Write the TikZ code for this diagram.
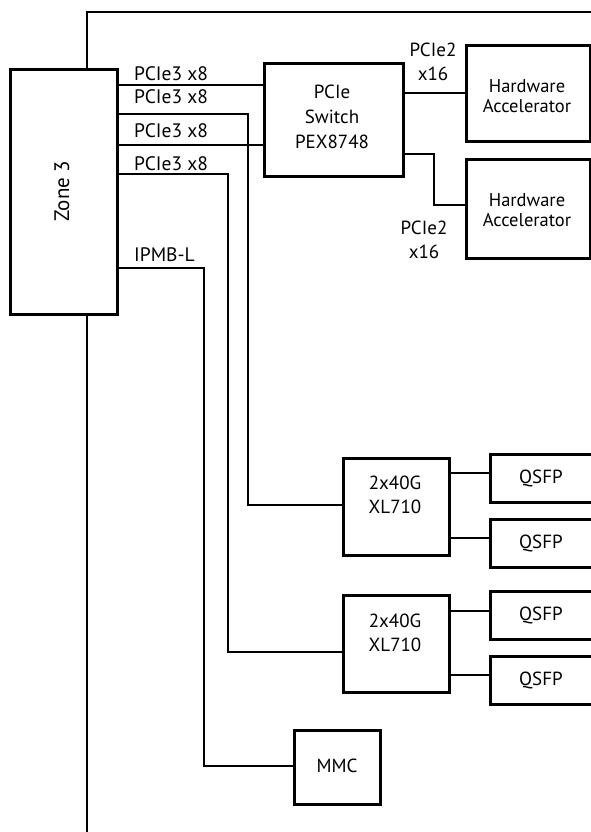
\documentclass[tikz,border=0pt]{standalone}
\usepackage{fontspec}
\setmainfont{PT Sans}
\begin{document}
\begin{tikzpicture}[x=1pt,y=-1pt,
  box/.style={draw=black,line width=3.2pt,fill=white,inner sep=0pt,anchor=north west},
  conn/.style={draw=black,line width=1.1pt},
  frame/.style={draw=black,line width=2.8pt},
  txt/.style={inner sep=0pt,align=center,font=\fontsize{19}{24}\selectfont},
  txtb/.style={inner sep=0pt,align=center,font=\fontsize{19}{25}\selectfont},
  txtc/.style={inner sep=0pt,align=center,font=\fontsize{18.5}{20}\selectfont},
  lbl/.style={inner sep=0pt,anchor=base west,font=\fontsize{19.5}{22}\selectfont}]
\clip (0,0) rectangle (591,832);
\fill[white] (0,0) rectangle (591,832);
% outer frame
\draw[frame] (87,840) -- (87,12) -- (600,12);
% boxes
\node[box,minimum width=107pt,minimum height=245pt] (zone) at (9,68) {};
\node[box,minimum width=139pt,minimum height=113pt] (sw) at (263,62) {};
\node[box,minimum width=124pt,minimum height=96pt] (ha1) at (465,44) {};
\node[box,minimum width=124pt,minimum height=99pt] (ha2) at (465,158) {};
\node[box,minimum width=106pt,minimum height=97pt] (xl1) at (342,457) {};
\node[box,minimum width=106pt,minimum height=97pt] (xl2) at (342,594) {};
\node[box,minimum width=106pt,minimum height=48pt] (q1) at (489,453) {};
\node[box,minimum width=106pt,minimum height=48pt] (q2) at (489,518) {};
\node[box,minimum width=106pt,minimum height=48pt] (q3) at (489,590) {};
\node[box,minimum width=106pt,minimum height=48pt] (q4) at (489,655) {};
\node[box,minimum width=86pt,minimum height=74pt] (mmc) at (293,729) {};
% box texts
\node[inner sep=0pt,font=\fontsize{21}{24}\selectfont,rotate=90] (tzone) at (62,191) {Zone 3};
\node[txtb] (tsw) at (332,117) {PCIe\\Switch\\PEX8748};
\node[txtc] (tha1) at (527,96) {Hardware\\Accelerator};
\node[txtc] (tha2) at (527,210) {Hardware\\Accelerator};
\node[txt] (txl1) at (395,495) {2x40G\\XL710};
\node[txt] (txl2) at (395,633) {2x40G\\XL710};
\node[txt] (tq1) at (541,478) {QSFP};
\node[txt] (tq2) at (541,543) {QSFP};
\node[txt] (tq3) at (541,615) {QSFP};
\node[txt] (tq4) at (541,680) {QSFP};
\node[txt] (tmmc) at (337,766) {MMC};
% connectors
\draw[conn] (zone.east |- 0,85) -- (sw.west |- 0,85);
\draw[conn] (zone.east |- 0,145) -- (sw.west |- 0,145);
\draw[conn] (zone.east |- 0,114) -- (248,114) -- (248,505) -- (xl1.west |- 0,505);
\draw[conn] (zone.east |- 0,174) -- (228,174) -- (228,652) -- (xl2.west |- 0,652);
\draw[conn] (zone.east |- 0,268) -- (204,268) -- (204,766) -- (mmc.west |- 0,766);
\draw[conn] (sw.east |- 0,93) -- (ha1.west |- 0,93);
\draw[conn] (sw.east |- 0,154) -- (434,154) -- (434,205) -- (ha2.west |- 0,205);
\draw[conn] (xl1.east |- 0,473) -- (q1.west |- 0,473);
\draw[conn] (xl1.east |- 0,538) -- (q2.west |- 0,538);
\draw[conn] (xl2.east |- 0,611) -- (q3.west |- 0,611);
\draw[conn] (xl2.east |- 0,675) -- (q4.west |- 0,675);
% connector labels
\node[lbl] (l1) at (134,81) {PCIe3 x8};
\node[lbl] (l2) at (134,104) {PCIe3 x8};
\node[lbl] (l3) at (134,138) {PCIe3 x8};
\node[lbl] (l4) at (134,170) {PCIe3 x8};
\node[lbl] (l5) at (134,261) {IPMB-L};
\node[txt] (l6) at (433,62) {PCIe2\\x16};
\node[txt] (l7) at (424,240) {PCIe2\\x16};
\end{tikzpicture}
\end{document}
